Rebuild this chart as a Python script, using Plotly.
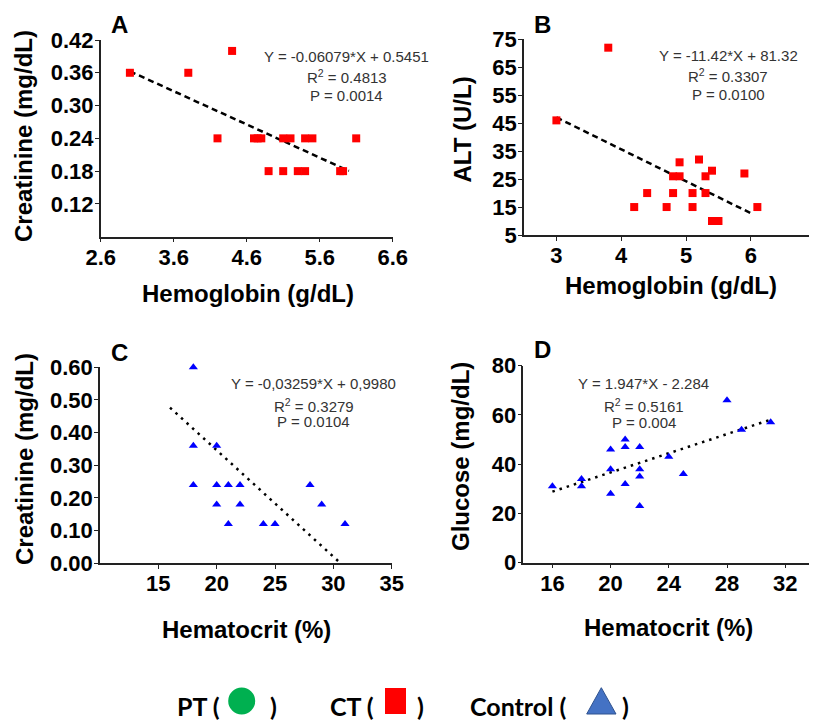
import plotly.graph_objects as go

# ---------------- data ----------------
A_x = [3.0, 3.8, 4.4, 4.2, 4.7, 4.75, 4.8, 5.1, 5.2, 5.4, 5.5, 6.1, 4.9, 5.1, 5.3, 5.4, 5.88, 5.92]
A_y = [0.36, 0.36, 0.40, 0.24, 0.24, 0.24, 0.24, 0.24, 0.24, 0.24, 0.24, 0.24, 0.18, 0.18, 0.18, 0.18, 0.18, 0.18]
A_fit = {"slope": -0.06079, "intercept": 0.5451, "x0": 3.0, "x1": 6.0}
A_text = ["Y = -0.06079*X + 0.5451", "R<sup>2</sup> = 0.4813", "P = 0.0014"]

B_x = [3.0, 3.8, 4.2, 4.4, 4.7, 4.8, 4.8, 4.9, 4.9, 5.1, 5.1, 5.2, 5.3, 5.3, 5.4, 5.4, 5.45, 5.5, 5.9, 6.1]
B_y = [46, 72, 15, 20, 15, 20, 26, 26, 31, 20, 15, 32, 26, 20, 28, 10, 10, 10, 27, 15]
B_fit = {"slope": -11.42, "intercept": 81.32, "x0": 3.0, "x1": 6.0}
B_text = ["Y = -11.42*X + 81.32", "R<sup>2</sup> = 0.3307", "P = 0.0100"]

C_x = [18, 18, 18, 20, 20, 20, 21, 21, 22, 22, 24, 25, 28, 29, 31]
C_y = [0.60, 0.36, 0.24, 0.36, 0.24, 0.18, 0.24, 0.12, 0.24, 0.18, 0.12, 0.12, 0.24, 0.18, 0.12]
C_fit = {"slope": -0.03259, "intercept": 0.9980, "x0": 16.0, "x1": 30.62}
C_text = ["Y = -0,03259*X + 0,9980", "R<sup>2</sup> = 0.3279", "P = 0.0104"]

D_x = [16, 18, 18, 20, 20, 20, 21, 21, 21, 22, 22, 22, 22, 24, 25, 28, 29, 31]
D_y = [31, 34, 31, 46, 38, 28, 50, 47, 32, 47, 38, 35, 23, 43, 36, 66, 54, 57]
D_fit = {"slope": 1.947, "intercept": -2.284, "x0": 16.0, "x1": 31.0}
D_text = ["Y = 1.947*X - 2.284", "R<sup>2</sup> = 0.5161", "P = 0.004"]

A_xticks = [2.6, 3.6, 4.6, 5.6, 6.6]
A_yticks = [0.12, 0.18, 0.24, 0.30, 0.36, 0.42]
B_xticks = [3, 4, 5, 6, 7]
B_yticks = [5, 15, 25, 35, 45, 55, 65, 75]
C_xticks = [15, 20, 25, 30, 35]
C_yticks = [0.00, 0.10, 0.20, 0.30, 0.40, 0.50, 0.60]
D_xticks = [16, 20, 24, 28, 32]
D_yticks = [0, 20, 40, 60, 80]

legend_labels = ["PT (", "CT (", "Control ("]

# ---------------- layout helpers ----------------
W, H = 817, 722
OFF = 8  # page body margin
def fx(px):
    return (px - OFF) / W
def fy(py):
    return 1 - (py - OFF) / H

FONT = "Liberation Sans, Arial, sans-serif"
TICKFONT = dict(family=FONT, size=22, color="black", weight="bold")

fig = go.Figure()

panels = [
    dict(x=A_x, y=A_y, fit=A_fit, text=A_text, sym="square", col="#FF0000", dash="6px,4px",
         xd=(100.7, 392.7), yd=(40, 236.7), xr=[2.6, 6.6], yr=[0.06, 0.42],
         xt=A_xticks, yt=A_yticks, yfmt="{:.2f}", xfmt="{:.1f}",
         tx=346.5, ty=(56, 77, 96), lab="A", lx=120, ly=24,
         ytitle="Creatinine (mg/dL)", ytx=24, yty=136, xtitle="Hemoglobin (g/dL)", xtx=247.5, xty=293),
    dict(x=B_x, y=B_y, fit=B_fit, text=B_text, sym="square", col="#FF0000", dash="6px,4px",
         xd=(524, 815.7), yd=(39.3, 235), xr=[2.5, 7], yr=[5, 75],
         xt=B_xticks, yt=B_yticks, yfmt="{:d}", xfmt="{:d}",
         tx=728, ty=(55, 76, 95), lab="B", lx=542, ly=24,
         ytitle="ALT (U/L)", ytx=462.5, yty=130, xtitle="Hemoglobin (g/dL)", xtx=670.8, xty=285.5),
    dict(x=C_x, y=C_y, fit=C_fit, text=C_text, sym="triangle-up", col="#0000FF", dash="2.5px,5px",
         xd=(100, 391.7), yd=(367.3, 563.3), xr=[10, 35], yr=[0, 0.6],
         xt=C_xticks, yt=C_yticks, yfmt="{:.2f}", xfmt="{:d}",
         tx=313.8, ty=(383.3, 405, 421.7), lab="C", lx=120, ly=352,
         ytitle="Creatinine (mg/dL)", ytx=24, yty=459, xtitle="Hematocrit (%)", xtx=246.7, xty=629),
    dict(x=D_x, y=D_y, fit=D_fit, text=D_text, sym="triangle-up", col="#0000FF", dash="2.5px,5px",
         xd=(523.3, 814.3), yd=(365.7, 562.7), xr=[14, 34], yr=[0, 80],
         xt=D_xticks, yt=D_yticks, yfmt="{:d}", xfmt="{:d}",
         tx=643.8, ty=(383, 405, 422), lab="D", lx=542, ly=350,
         ytitle="Glucose (mg/dL)", ytx=461, yty=457, xtitle="Hematocrit (%)", xtx=668.3, xty=627.5),
]

annotations = []
layout_axes = {}
for i, p in enumerate(panels, start=1):
    xa = "x" if i == 1 else f"x{i}"
    ya = "y" if i == 1 else f"y{i}"
    xkey = "xaxis" if i == 1 else f"xaxis{i}"
    ykey = "yaxis" if i == 1 else f"yaxis{i}"

    f = p["fit"]
    fit_x = [f["x0"], f["x1"]]
    fit_y = [f["slope"] * v + f["intercept"] for v in fit_x]
    fig.add_trace(go.Scatter(x=fit_x, y=fit_y, mode="lines", xaxis=xa, yaxis=ya,
                             line=dict(color="black", width=2.5, dash=p["dash"]),
                             showlegend=False, hoverinfo="skip", cliponaxis=False))
    fig.add_trace(go.Scatter(x=p["x"], y=p["y"], mode="markers", xaxis=xa, yaxis=ya,
                             marker=dict(symbol=p["sym"], size=8, color=p["col"], line=dict(width=0)),
                             showlegend=False, cliponaxis=False))

    common = dict(showline=True, linecolor="#222222", linewidth=1.5, ticks="outside",
                  tickcolor="#222222", tickwidth=1.2, ticklen=4, showgrid=False, zeroline=False,
                  tickfont=TICKFONT, fixedrange=True, automargin=False)
    layout_axes[xkey] = dict(common, domain=[fx(p["xd"][0]), fx(p["xd"][1])], range=p["xr"],
                             anchor=ya, tickmode="array", tickvals=p["xt"], ticklabelstandoff=-4,
                             ticktext=[p["xfmt"].format(v) for v in p["xt"]])
    layout_axes[ykey] = dict(common, domain=[fy(p["yd"][1]), fy(p["yd"][0])], range=p["yr"],
                             anchor=xa, tickmode="array", tickvals=p["yt"], ticklabelstandoff=-3,
                             ticktext=[p["yfmt"].format(v) for v in p["yt"]])

    for t, yy in zip(p["text"], p["ty"]):
        annotations.append(dict(text=t, x=fx(p["tx"]), y=fy(yy), xref="paper", yref="paper",
                                xanchor="center", yanchor="middle", showarrow=False,
                                font=dict(family=FONT, size=15, color="#333333")))
    annotations.append(dict(text=p["lab"], x=fx(p["lx"]), y=fy(p["ly"]), xref="paper", yref="paper",
                            xanchor="center", yanchor="middle", showarrow=False,
                            font=dict(family=FONT, size=24, color="black", weight="bold")))
    annotations.append(dict(text=p["ytitle"], x=fx(p["ytx"]), y=fy(p["yty"]), xref="paper", yref="paper",
                            xanchor="center", yanchor="middle", showarrow=False, textangle=-90,
                            font=dict(family=FONT, size=24, color="black", weight="bold")))
    annotations.append(dict(text=p["xtitle"], x=fx(p["xtx"]), y=fy(p["xty"]), xref="paper", yref="paper",
                            xanchor="center", yanchor="middle", showarrow=False,
                            font=dict(family=FONT, size=24, color="black", weight="bold")))

# ---------------- custom legend ----------------
LFONT = dict(family="Lato, Carlito, sans-serif", size=25, color="black", weight="bold")
legend_pos = [(175, 268), (328, 415), (468, 620)]
for lbl, (x0, xc) in zip(legend_labels, legend_pos):
    annotations.append(dict(text=lbl, x=fx(x0), y=fy(706), xref="paper", yref="paper",
                            xanchor="left", yanchor="middle", showarrow=False, font=LFONT))
    annotations.append(dict(text=")", x=fx(xc), y=fy(706), xref="paper", yref="paper",
                            xanchor="left", yanchor="middle", showarrow=False, font=LFONT))

shapes = [
    dict(type="circle", xref="paper", yref="paper", x0=fx(228.2), x1=fx(255.2), y0=fy(714.5), y1=fy(687.5),
         fillcolor="#00B050", line=dict(width=0)),
    dict(type="rect", xref="paper", yref="paper", x0=fx(385), x1=fx(406), y0=fy(714), y1=fy(688),
         fillcolor="#FF0000", line=dict(width=0)),
    dict(type="path", xref="paper", yref="paper",
         path=f"M {fx(586.7)} {fy(714)} L {fx(601.3)} {fy(687.7)} L {fx(616)} {fy(714)} Z",
         fillcolor="#4472C4", line=dict(color="#2F528F", width=1)),
]

fig.update_layout(width=W, height=H, margin=dict(l=0, r=0, t=0, b=0, autoexpand=False),
                  template="none",
                  paper_bgcolor="white", plot_bgcolor="white", showlegend=False,
                  annotations=annotations, shapes=shapes, **layout_axes)

fig.write_html("out.html")
